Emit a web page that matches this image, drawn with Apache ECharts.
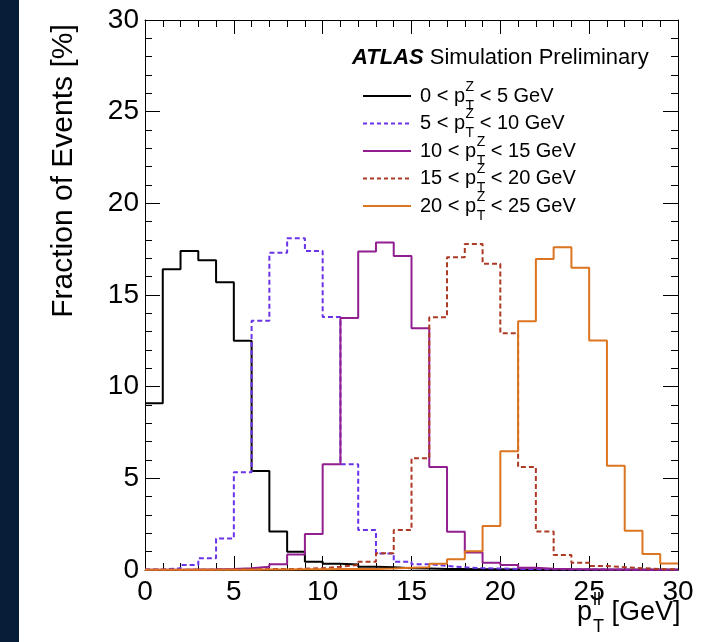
<!DOCTYPE html>
<html>
<head>
<meta charset="utf-8">
<script src="https://cdn.jsdelivr.net/npm/echarts@6/dist/echarts.min.js"></script>
<style>
html,body{margin:0;padding:0;background:#fff;}
#chart{width:709px;height:642px;}
</style>
</head>
<body>
<div id="chart"></div>
<script>
// ---- data ----
const binEdges = [0,1,2,3,4,5,6,7,8,9,10,11,12,13,14,15,16,17,18,19,20,21,22,23,24,25,26,27,28,29,30];
const xTicks = [0,5,10,15,20,25,30];
const yTicks = [0,5,10,15,20,25,30];

const pt0to5 = [9.1,16.4,17.4,16.9,15.7,12.5,5.4,2.1,1.0,0.45,0.34,0.3,0.18,0.15,0.1,0.08,0.06,0.05,0.04,0.04,0.03,0.03,0.02,0.02,0.02,0.01,0.01,0.01,0.01,0.01];
const pt5to10 = [0.03,0.09,0.27,0.64,1.72,5.33,13.6,17.3,18.1,17.4,13.8,5.77,2.18,0.9,0.45,0.31,0.22,0.15,0.1,0.08,0.06,0.05,0.04,0.03,0.03,0.02,0.02,0.02,0.01,0.01];
const pt10to15 = [0.01,0.02,0.03,0.04,0.06,0.1,0.18,0.31,0.85,1.96,5.77,13.74,17.37,17.86,17.13,13.19,5.62,2.09,0.95,0.4,0.27,0.12,0.07,0.05,0.04,0.03,0.03,0.02,0.02,0.02];
const pt15to20 = [0.01,0.01,0.02,0.02,0.03,0.04,0.05,0.05,0.07,0.1,0.18,0.27,0.45,0.91,2.18,6.1,13.79,17.06,17.78,16.7,12.92,5.62,2.1,0.82,0.4,0.22,0.15,0.1,0.05,0.04];
const pt20to25 = [0.01,0.01,0.01,0.01,0.02,0.02,0.03,0.03,0.04,0.04,0.05,0.05,0.06,0.08,0.12,0.15,0.34,0.58,1.02,2.4,6.48,13.57,16.97,17.6,16.48,12.52,5.68,2.14,0.87,0.36];

const seriesLo = [0,5,10,15,20];
const seriesHi = [5,10,15,20,25];
const seriesVals = [pt0to5, pt5to10, pt10to15, pt15to20, pt20to25];
const seriesColors = ['#000000','#6a33e8','#911f8f','#ad3a24','#dc7420'];
const seriesDashed = [false,true,false,true,false];

const FONT = "'Liberation Sans', Arial, Helvetica, sans-serif";

// text measuring
const mctx = document.createElement('canvas').getContext('2d');
function tw(str, size, weight, style){
  mctx.font = (style||'normal') + ' ' + (weight||'normal') + ' ' + size + 'px ' + "'Liberation Sans', Arial, sans-serif";
  return mctx.measureText(str).width;
}

const chart = echarts.init(document.getElementById('chart'), null, {renderer:'canvas'});

const G = {left:145, top:20, right:31, bottom:72};

function histData(vals){
  return binEdges.map((e,i)=>[e, vals[Math.min(i, vals.length-1)]]);
}

const series = seriesVals.map((vals,i)=>({
  type:'line',
  xAxisIndex:0, yAxisIndex:0,
  step:'end',
  showSymbol:false,
  symbol:'none',
  data:histData(vals),
  lineStyle:{color:seriesColors[i], width:2, type: seriesDashed[i] ? [5,3] : 'solid'},
  itemStyle:{color:seriesColors[i]},
  z: 2+i,
  animation:false,
  silent:true
}));

function axisCommon(){
  return {
    type:'value', min:0, max:30, interval:5,
    axisLine:{show:true, onZero:false, lineStyle:{color:'#000', width:1}},
    splitLine:{show:false},
    minorTick:{show:true, splitNumber:5, length:7, lineStyle:{color:'#000', width:1}},
    minorSplitLine:{show:false}
  };
}

// graphic elements
const graphics = [];
// dark stripe on left
graphics.push({type:'rect', shape:{x:0,y:0,width:19,height:642}, style:{fill:'#071e38'}, z:100});

// y axis title
graphics.push({type:'text', x:64, y:171, rotation:Math.PI/2,
  style:{text:'Fraction of Events [%]', font:'30px '+FONT, fill:'#000', align:'center', verticalAlign:'middle'}, z:100});

// x axis title: p_T^ll [GeV]
(function(){
  const x0 = 577, yc = 613, fs = 27, fsS = 18;
  const wp = tw('p', fs);
  graphics.push({type:'text', x:x0, y:yc, style:{text:'p', font:fs+'px '+FONT, fill:'#000', align:'left', verticalAlign:'middle'}, z:100});
  const xs = x0 + wp + 1;
  graphics.push({type:'text', x:xs, y:yc-13, style:{text:'ll', font:fsS+'px '+FONT, fill:'#000', align:'left', verticalAlign:'middle'}, z:100});
  graphics.push({type:'text', x:xs, y:yc+14, style:{text:'T', font:fsS+'px '+FONT, fill:'#000', align:'left', verticalAlign:'middle'}, z:100});
  const ws = Math.max(tw('ll', fsS), tw('T', fsS));
  graphics.push({type:'text', x:xs+ws, y:yc, style:{text:' [GeV]', font:fs+'px '+FONT, fill:'#000', align:'left', verticalAlign:'middle'}, z:100});
})();

// ATLAS label
(function(){
  const x0 = 352, yc = 58, fs = 22;
  graphics.push({type:'text', x:x0, y:yc, style:{text:'ATLAS', font:'italic bold '+fs+'px '+FONT, fill:'#000', align:'left', verticalAlign:'middle'}, z:100});
  const w = tw('ATLAS', fs, 'bold', 'italic');
  graphics.push({type:'text', x:x0+w, y:yc, style:{text:' Simulation Preliminary', font:fs+'px '+FONT, fill:'#000', align:'left', verticalAlign:'middle'}, z:100});
})();

// legend
const legendRows = [96,123.5,151,178.5,206];
seriesVals.forEach((v,i)=>{
  const y = legendRows[i];
  graphics.push({type:'line', shape:{x1:363,y1:y,x2:411,y2:y},
    style:{stroke:seriesColors[i], lineWidth:2, lineDash: seriesDashed[i] ? [4,3] : null}, z:100});
  const fs = 20, fsS = 14;
  const t1 = seriesLo[i] + ' < p';
  const x0 = 420;
  graphics.push({type:'text', x:x0, y:y, style:{text:t1, font:fs+'px '+FONT, fill:'#000', align:'left', verticalAlign:'middle'}, z:100});
  const w1 = tw(t1, fs);
  const xs = x0 + w1 + 0.5;
  graphics.push({type:'text', x:xs, y:y-9, style:{text:'Z', font:fsS+'px '+FONT, fill:'#000', align:'left', verticalAlign:'middle'}, z:100});
  graphics.push({type:'text', x:xs, y:y+10, style:{text:'T', font:fsS+'px '+FONT, fill:'#000', align:'left', verticalAlign:'middle'}, z:100});
  const ws = Math.max(tw('Z', fsS), tw('T', fsS));
  graphics.push({type:'text', x:xs+ws, y:y, style:{text:' < ' + seriesHi[i] + ' GeV', font:fs+'px '+FONT, fill:'#000', align:'left', verticalAlign:'middle'}, z:100});
});

const option = {
  backgroundColor:'#ffffff',
  animation:false,
  grid:{left:G.left, top:G.top, right:G.right, bottom:G.bottom, containLabel:false, outerBoundsMode:'none'},
  xAxis:[
    Object.assign(axisCommon(), {
      position:'bottom',
      axisTick:{show:true, inside:true, length:14, lineStyle:{color:'#000', width:1}},
      axisLabel:{show:true, margin:8, color:'#000', fontSize:28, fontFamily:FONT,
        customValues: xTicks, showMinLabel:true, showMaxLabel:true}
    }),
    Object.assign(axisCommon(), {
      position:'top',
      axisTick:{show:true, inside:true, length:14, lineStyle:{color:'#000', width:1}},
      axisLabel:{show:false}
    })
  ],
  yAxis:[
    Object.assign(axisCommon(), {
      position:'left',
      axisTick:{show:true, inside:true, length:15, lineStyle:{color:'#000', width:1}},
      axisLabel:{show:true, margin:6, color:'#000', fontSize:28, fontFamily:FONT,
        customValues: yTicks, showMinLabel:true, showMaxLabel:true}
    }),
    Object.assign(axisCommon(), {
      position:'right',
      axisTick:{show:true, inside:true, length:15, lineStyle:{color:'#000', width:1}},
      axisLabel:{show:false}
    })
  ],
  series: series,
  graphic: graphics
};
chart.setOption(option);
</script>
</body>
</html>
